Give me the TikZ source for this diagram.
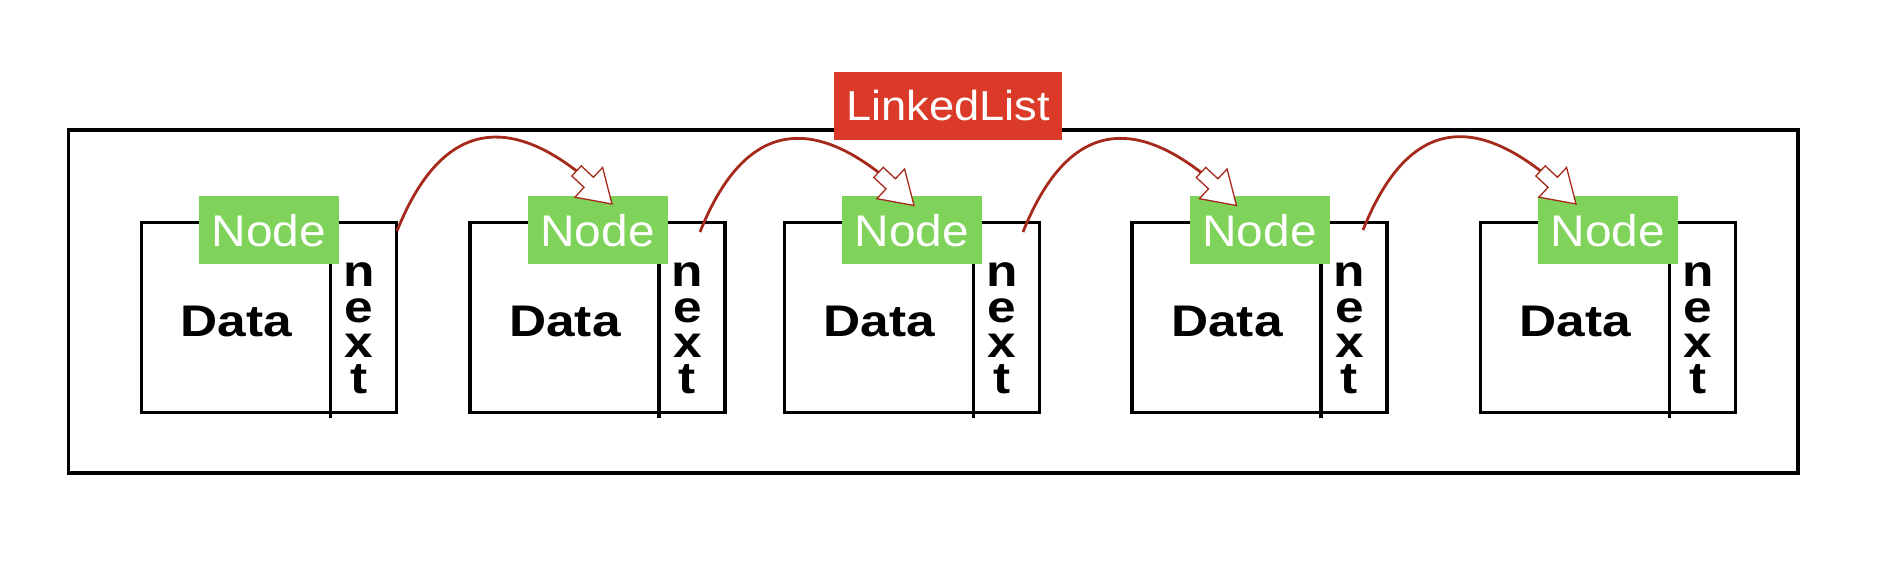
\documentclass[tikz,border=0pt]{standalone}
\usepackage{fontspec}
\setmainfont{Liberation Sans}
\newfontfamily\tagfont[FakeStretch=1.08]{Liberation Sans}
\newfontfamily\cellfont[FakeStretch=1.16]{Liberation Sans}
\usepackage{tikz}
\usepackage{xcolor}
\usetikzlibrary{positioning}
\definecolor{listred}{HTML}{DA3A27}
\definecolor{nodegreen}{HTML}{80D35A}
\definecolor{linkred}{HTML}{A52A1C}
\tikzstyle{frame} = [rectangle, draw=black, line width=3.3pt, minimum width=1729.5pt, minimum height=343pt, inner sep=0pt]
\tikzstyle{cell} = [rectangle, draw=black, line width=3.3pt, minimum width=255pt, minimum height=190.5pt, inner sep=0pt]
\tikzstyle{divider} = [draw=black, line width=3.3pt]
\tikzstyle{listtag} = [rectangle, fill=listred, text=white, minimum width=228pt, minimum height=68pt, inner sep=0pt, font=\tagfont\fontsize{41.9}{50}\selectfont]
\tikzstyle{nodetag} = [rectangle, fill=nodegreen, text=white, minimum width=140pt, minimum height=68pt, inner sep=0pt, yshift=-9.7pt, font=\tagfont\fontsize{44.3}{53}\selectfont]
\tikzstyle{datatext} = [inner sep=0pt, xshift=-32.5pt, yshift=-3.5pt, font=\cellfont\bfseries\fontsize{44.3}{53}\selectfont]
\tikzstyle{nexttext} = [inner sep=0pt, align=center, xshift=90pt, yshift=-10.8pt, font=\cellfont\bfseries\fontsize{44.3}{35.5}\selectfont]
\tikzstyle{link} = [draw=linkred, line width=2.8pt]
\tikzstyle{headline} = [draw=linkred, line width=1.3pt, fill=white, line join=miter]
\tikzset{hollowhead/.pic={\draw [headline] (0,0) -- (-31.8,20.3) -- (-31.8,6.9) -- (-48.5,6.9) -- (-48.5,-6.9) -- (-31.8,-6.9) -- (-31.8,-20.3) -- cycle;}}

\begin{document}
\begin{tikzpicture}[x=1pt, y=1pt]
\useasboundingbox (0,0) rectangle (1898,-582);
\node (list) [frame] at (933.25,-301.5) {};
\node (title) [listtag] at (948,-106) {LinkedList};

\node (cell1) [cell] at (269,-317.5) {};
\draw [divider] ([xshift=61.5pt]cell1.north) -- ++(0,-197);
\node (data1) [datatext] at (cell1.center) {Data};
\node (next1) [nexttext] at (cell1.center) {n\\e\\x\\t};
\node (tag1) [nodetag] at (cell1.north) {Node};

\node (cell2) [cell] at (597.5,-317.5) {};
\draw [divider] ([xshift=61.5pt]cell2.north) -- ++(0,-197);
\node (data2) [datatext] at (cell2.center) {Data};
\node (next2) [nexttext] at (cell2.center) {n\\e\\x\\t};
\node (tag2) [nodetag] at (cell2.north) {Node};

\node (cell3) [cell] at (912,-317.5) {};
\draw [divider] ([xshift=61.5pt]cell3.north) -- ++(0,-197);
\node (data3) [datatext] at (cell3.center) {Data};
\node (next3) [nexttext] at (cell3.center) {n\\e\\x\\t};
\node (tag3) [nodetag] at (cell3.north) {Node};

\node (cell4) [cell] at (1259.5,-317.5) {};
\draw [divider] ([xshift=61.5pt]cell4.north) -- ++(0,-197);
\node (data4) [datatext] at (cell4.center) {Data};
\node (next4) [nexttext] at (cell4.center) {n\\e\\x\\t};
\node (tag4) [nodetag] at (cell4.north) {Node};

\node (cell5) [cell] at (1608,-317.5) {};
\draw [divider] ([xshift=61.5pt]cell5.north) -- ++(0,-197);
\node (data5) [datatext] at (cell5.center) {Data};
\node (next5) [nexttext] at (cell5.center) {n\\e\\x\\t};
\node (tag5) [nodetag] at (cell5.north) {Node};

\coordinate (from1) at (397,-231);
\coordinate (back1) at (576.5,-170.9);
\coordinate (tip1) at (612,-204);
\coordinate (from2) at (700,-232);
\coordinate (back2) at (878.5,-172.4);
\coordinate (tip2) at (914,-205.5);
\coordinate (from3) at (1023,-232);
\coordinate (back3) at (1201,-172.4);
\coordinate (tip3) at (1236.5,-205.5);
\coordinate (from4) at (1363,-230);
\coordinate (back4) at (1540.5,-170.9);
\coordinate (tip4) at (1576,-204);

\draw [link] (from1) .. controls +(48,120) and +(-61,47) .. (back1);
\draw [link] (from2) .. controls +(48,120) and +(-61,47) .. (back2);
\draw [link] (from3) .. controls +(48,120) and +(-61,47) .. (back3);
\draw [link] (from4) .. controls +(48,120) and +(-61,47) .. (back4);
\pic [rotate=-43] at (tip1) {hollowhead};
\pic [rotate=-43] at (tip2) {hollowhead};
\pic [rotate=-43] at (tip3) {hollowhead};
\pic [rotate=-43] at (tip4) {hollowhead};
\end{tikzpicture}
\end{document}
